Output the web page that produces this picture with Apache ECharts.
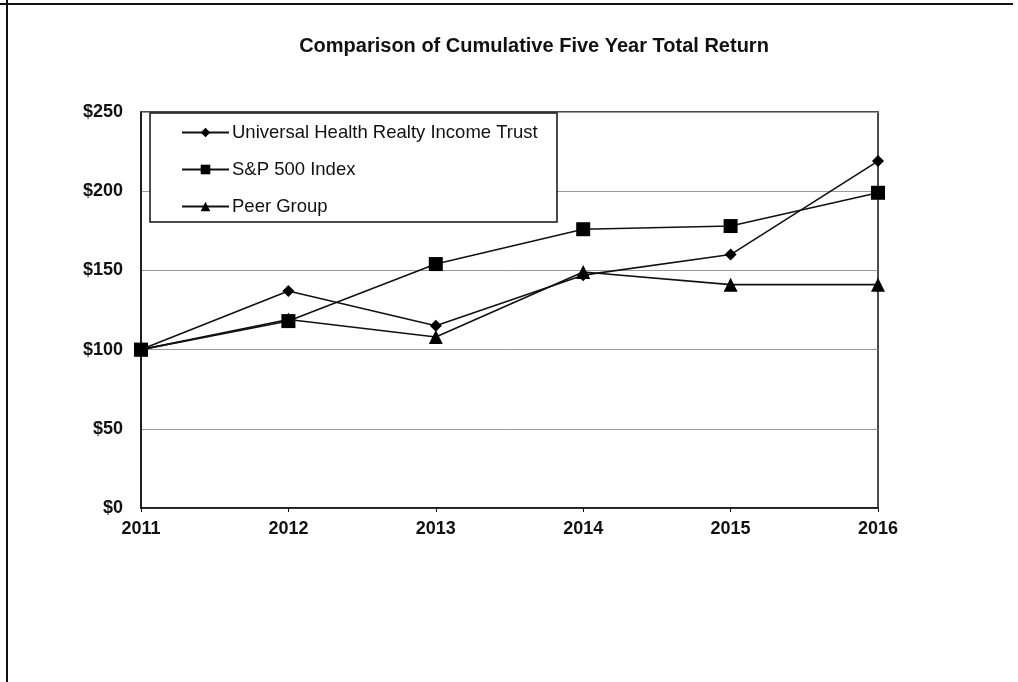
<!DOCTYPE html>
<html>
<head>
<meta charset="utf-8">
<script src="https://cdn.jsdelivr.net/npm/echarts@6/dist/echarts.min.js"></script>
<style>
html,body{margin:0;padding:0;background:#fff;}
#c{width:1018px;height:682px;}
</style>
</head>
<body>
<div id="c"></div>
<script>
const years = ['2011','2012','2013','2014','2015','2016'];
const uhtValues = [100, 137, 115, 147, 160, 219];
const spValues = [100, 118, 154, 176, 178, 199];
const peerValues = [100, 119, 108, 149, 141, 141];
const seriesNames = ['Universal Health Realty Income Trust', 'S&P 500 Index', 'Peer Group'];

const chart = echarts.init(document.getElementById('c'));
const FONT = '"Liberation Sans", Arial, sans-serif';
function mkSeries(name, data, symbol, size) {
  return {
    name: name, type: 'line', data: data,
    symbol: symbol, symbolSize: size,
    lineStyle: {color: '#111', width: 1.6},
    itemStyle: {color: '#000'},
    emphasis: {disabled: true},
    animation: false, z: 3
  };
}
chart.setOption({
  animation: false,
  backgroundColor: '#fff',
  title: {
    text: 'Comparison of Cumulative Five Year Total Return',
    left: 529, top: 31, textAlign: 'center',
    textStyle: {fontFamily: FONT, fontWeight: 'bold', fontSize: 20, color: '#111'}
  },
  grid: {left: 141, right: 140, top: 112, bottom: 174, show: true, borderColor: '#111', borderWidth: 1.5, backgroundColor: 'transparent'},
  xAxis: {
    type: 'category', data: years, boundaryGap: false,
    axisLine: {lineStyle: {color: '#111', width: 1.5}},
    axisTick: {show: true, length: 4, alignWithLabel: true, lineStyle: {color: '#111'}},
    axisLabel: {fontFamily: FONT, fontWeight: 'bold', fontSize: 18, color: '#111', margin: 12}
  },
  yAxis: {
    type: 'value', min: 0, max: 250, interval: 50,
    axisLine: {show: true, lineStyle: {color: '#111', width: 1.5}},
    axisTick: {show: false},
    splitLine: {lineStyle: {color: '#999', width: 1}},
    axisLabel: {fontFamily: FONT, fontWeight: 'bold', fontSize: 18, color: '#111', margin: 18, formatter: v => '$' + v}
  },
  legend: {
    orient: 'vertical', left: 176, top: 118,
    itemWidth: 47, itemHeight: 12, itemGap: 18,
    data: seriesNames,
    textStyle: {fontFamily: FONT, fontSize: 18.5, color: '#111', padding: [0,0,0,-2]},
    selectedMode: false, z: 10
  },
  graphic: [
    {type: 'rect', shape: {x: 150, y: 113, width: 407, height: 109}, style: {fill: '#fff', stroke: '#111', lineWidth: 1.5}, z: 5},
    {type: 'line', shape: {x1: 7, y1: 0, x2: 7, y2: 682}, style: {stroke: '#111', lineWidth: 2}, z: 1},
    {type: 'line', shape: {x1: 0, y1: 4, x2: 1013, y2: 4}, style: {stroke: '#111', lineWidth: 2}, z: 1}
  ],
  series: [
    mkSeries(seriesNames[0], uhtValues, 'diamond', 12),
    mkSeries(seriesNames[1], spValues, 'rect', 14),
    mkSeries(seriesNames[2], peerValues, 'triangle', 14)
  ]
});
</script>
</body>
</html>
